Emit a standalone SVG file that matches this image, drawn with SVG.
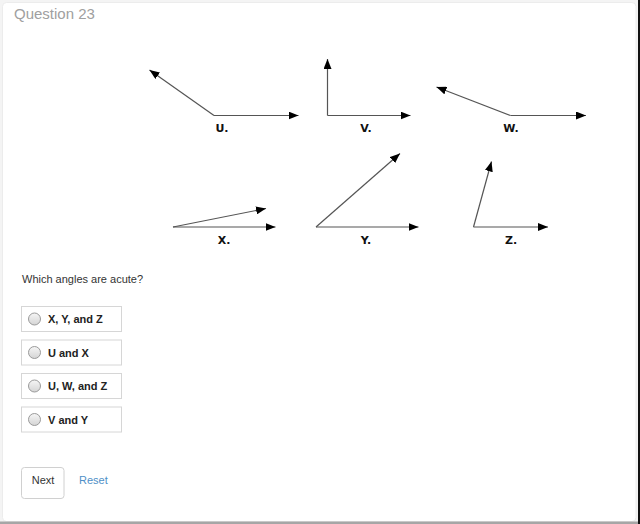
<svg xmlns="http://www.w3.org/2000/svg" width="640" height="524" viewBox="0 0 640 524">
<defs>
<marker id="ah" viewBox="0 0 10 8" refX="10" refY="4" markerWidth="10" markerHeight="8" markerUnits="userSpaceOnUse" orient="auto">
<path d="M0,0 L10,4 L0,8 Z" fill="#000"/>
</marker>
<style>
.ray{stroke:#555;stroke-width:1.2;fill:none;marker-end:url(#ah)}
.lbl{font-family:"DejaVu Sans",Verdana,sans-serif;font-weight:bold;font-size:11px;fill:#111;text-anchor:middle}
.opt{fill:#fff;stroke:#d6d6d6;stroke-width:1}
.optt{font-family:"Liberation Sans",Arial,sans-serif;font-weight:bold;font-size:11px;fill:#222}
.radio{stroke:#9a9a9a;stroke-width:1}
</style>
<linearGradient id="rg" x1="0" y1="0" x2="0" y2="1">
<stop offset="0" stop-color="#f6f6f6"/><stop offset="1" stop-color="#d4d4d4"/>
</linearGradient>
</defs>
<rect x="0" y="0" width="640" height="524" fill="#f4f4f4"/>
<rect x="2.5" y="2.5" width="633.5" height="519" rx="4" fill="#fff" stroke="#ececec"/>
<rect x="638" y="0" width="2" height="524" fill="#111"/>
<rect x="0" y="521.5" width="638" height="2.5" fill="#a6a6a6"/>

<text x="14" y="19" font-family="'Liberation Sans',Arial,sans-serif" font-size="15" fill="#a0a0a0">Question 23</text>

<g id="connectors">
<g id="angleU"><path class="ray" d="M214,115.5 L298.5,115.5"/><path class="ray" d="M214,115.5 L149.5,70"/></g>
<g id="angleV"><path class="ray" d="M327.5,115.5 L410.5,115.5"/><path class="ray" d="M327.5,115.5 L327.5,59"/></g>
<g id="angleW"><path class="ray" d="M510.5,115.5 L586,115.5"/><path class="ray" d="M510.5,115.5 L436.5,87"/></g>
<g id="angleX"><path class="ray" d="M173,227 L275.5,227"/><path class="ray" d="M173,227 L266,208.5"/></g>
<g id="angleY"><path class="ray" d="M316,227 L418.5,227"/><path class="ray" d="M316,227 L400,153.5"/></g>
<g id="angleZ"><path class="ray" d="M473.5,227 L548,227"/><path class="ray" d="M473.5,227 L491.5,161.5"/></g>
</g>

<g id="labels">
<text class="lbl" x="222" y="132">U.</text>
<text class="lbl" x="366" y="132">V.</text>
<text class="lbl" x="511" y="132">W.</text>
<text class="lbl" x="224" y="244">X.</text>
<text class="lbl" x="366" y="244">Y.</text>
<text class="lbl" x="511" y="244">Z.</text>
</g>

<text x="22" y="283" font-family="'Liberation Sans',Arial,sans-serif" font-size="11" fill="#333">Which angles are acute?</text>

<g id="option1"><rect class="opt" x="21.5" y="306.5" width="100" height="25"/><circle class="radio" cx="34.5" cy="319" r="6" fill="url(#rg)"/><text class="optt" x="48" y="323">X, Y, and Z</text></g>
<g id="option2"><rect class="opt" x="21.5" y="340" width="100" height="25"/><circle class="radio" cx="34.5" cy="352.5" r="6" fill="url(#rg)"/><text class="optt" x="48" y="356.5">U and X</text></g>
<g id="option3"><rect class="opt" x="21.5" y="373.5" width="100" height="25"/><circle class="radio" cx="34.5" cy="386" r="6" fill="url(#rg)"/><text class="optt" x="48" y="390">U, W, and Z</text></g>
<g id="option4"><rect class="opt" x="21.5" y="407" width="100" height="25"/><circle class="radio" cx="34.5" cy="419.5" r="6" fill="url(#rg)"/><text class="optt" x="48" y="423.5">V and Y</text></g>

<g id="next"><rect x="21.5" y="467.5" width="42.5" height="31" rx="3" fill="#fff" stroke="#d0d0d0"/><text x="43" y="484" text-anchor="middle" font-family="'Liberation Sans',Arial,sans-serif" font-size="11" fill="#333">Next</text></g>
<g id="reset"><text x="79" y="484" font-family="'Liberation Sans',Arial,sans-serif" font-size="11" fill="#4e8fc7">Reset</text></g>
</svg>
